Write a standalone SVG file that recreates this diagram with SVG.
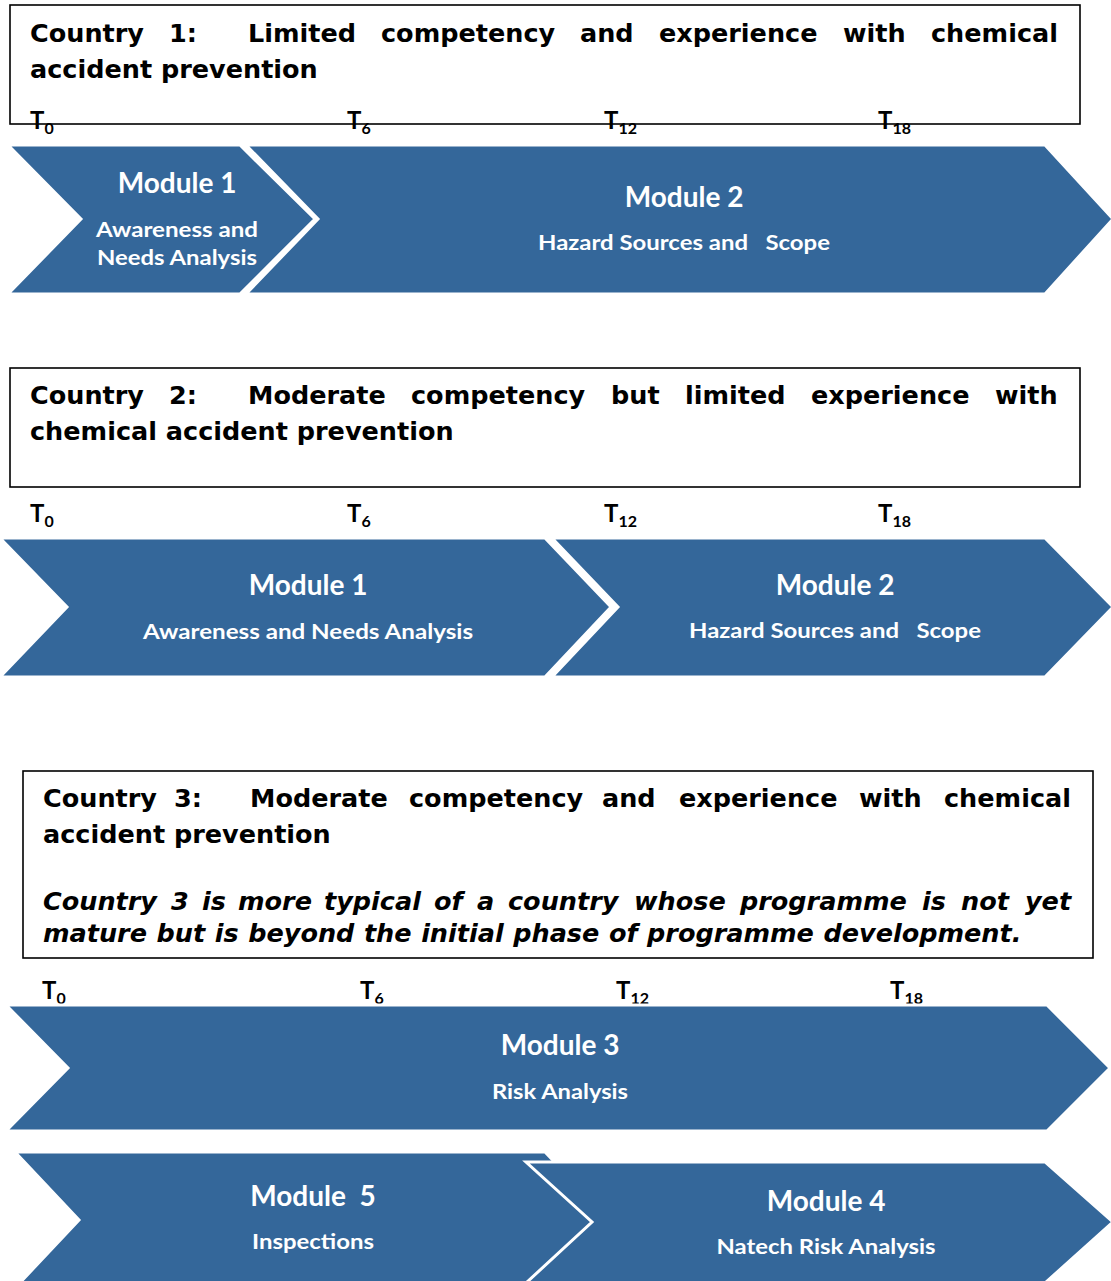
<svg xmlns="http://www.w3.org/2000/svg" width="1111" height="1281" viewBox="0 0 1111 1281">
<style>
.box{fill:#ffffff;stroke:#000000;stroke-width:1.6}
.hd{font-family:"DejaVu Sans","Verdana",sans-serif;font-weight:bold;font-size:25.5px;fill:#000000}
.it{font-style:italic}
.chev{fill:#34679A;stroke:#ffffff;stroke-width:3;stroke-linejoin:miter}
.mt{font-family:Lato,"Open Sans",sans-serif;font-weight:bold;font-size:28px;fill:#ffffff;text-anchor:middle}
.ms{font-family:Lato,"Open Sans",sans-serif;font-weight:bold;font-size:21px;fill:#ffffff;text-anchor:middle}
.tl{font-family:Lato,"Open Sans",sans-serif;font-weight:bold;font-size:24px;fill:#000000}
.sub{font-size:16px}
</style>
<rect width="1111" height="1281" fill="#ffffff"/>

<!-- Country 1 -->
<g id="country1-header">
<rect class="box" x="10" y="5" width="1070" height="119"/>
<text class="hd" y="42"><tspan x="30">Country</tspan><tspan x="169">1:</tspan><tspan x="248">Limited</tspan><tspan x="381">competency</tspan><tspan x="580">and</tspan><tspan x="659">experience</tspan><tspan x="843">with</tspan><tspan x="931">chemical</tspan></text>
<text class="hd" x="30" y="78">accident prevention</text>
</g>
<g id="country1-timeline">
<text class="tl" x="30" y="129">T<tspan class="sub" dy="5">0</tspan></text>
<text class="tl" x="347" y="129">T<tspan class="sub" dy="5">6</tspan></text>
<text class="tl" x="604" y="129">T<tspan class="sub" dy="5">12</tspan></text>
<text class="tl" x="878" y="129">T<tspan class="sub" dy="5">18</tspan></text>
</g>
<g id="c1-module2">
<polygon class="chev" points="246,145 1045,145 1113,219 1045,294 246,294 318,219"/>
<text class="mt" x="684" y="207">Module 2</text>
<text class="ms" x="684" y="250" textLength="292" lengthAdjust="spacingAndGlyphs" xml:space="preserve">Hazard Sources and   Scope</text>
</g>
<g id="c1-module1">
<polygon class="chev" points="8,145 240,145 315,219 240,294 8,294 81,219"/>
<text class="mt" x="177" y="193">Module 1</text>
<text class="ms" x="177" y="237" textLength="162" lengthAdjust="spacingAndGlyphs">Awareness and</text>
<text class="ms" x="177" y="265" textLength="160" lengthAdjust="spacingAndGlyphs">Needs Analysis</text>
</g>

<!-- Country 2 -->
<g id="country2-header">
<rect class="box" x="10" y="368" width="1070" height="119"/>
<text class="hd" y="404"><tspan x="30">Country</tspan><tspan x="169">2:</tspan><tspan x="248">Moderate</tspan><tspan x="411">competency</tspan><tspan x="611">but</tspan><tspan x="685">limited</tspan><tspan x="811">experience</tspan><tspan x="995">with</tspan></text>
<text class="hd" x="30" y="440">chemical accident prevention</text>
</g>
<g id="country2-timeline">
<text class="tl" x="30" y="522">T<tspan class="sub" dy="5">0</tspan></text>
<text class="tl" x="347" y="522">T<tspan class="sub" dy="5">6</tspan></text>
<text class="tl" x="604" y="522">T<tspan class="sub" dy="5">12</tspan></text>
<text class="tl" x="878" y="522">T<tspan class="sub" dy="5">18</tspan></text>
</g>
<g id="c2-module2">
<polygon class="chev" points="552,538 1045,538 1113,607 1045,677 552,677 618,607"/>
<text class="mt" x="835" y="595">Module 2</text>
<text class="ms" x="835" y="638" textLength="292" lengthAdjust="spacingAndGlyphs" xml:space="preserve">Hazard Sources and   Scope</text>
</g>
<g id="c2-module1">
<polygon class="chev" points="0,538 545,538 611,607 545,677 0,677 67,607"/>
<text class="mt" x="308" y="595">Module 1</text>
<text class="ms" x="308" y="639" textLength="330" lengthAdjust="spacingAndGlyphs">Awareness and Needs Analysis</text>
</g>

<!-- Country 3 -->
<g id="country3-header">
<rect class="box" x="23" y="771" width="1070" height="187"/>
<text class="hd" y="807"><tspan x="43">Country</tspan><tspan x="174">3:</tspan><tspan x="250">Moderate</tspan><tspan x="409">competency</tspan><tspan x="602">and</tspan><tspan x="679">experience</tspan><tspan x="859">with</tspan><tspan x="944">chemical</tspan></text>
<text class="hd" x="43" y="843">accident prevention</text>
<text class="hd it" y="910"><tspan x="43">Country</tspan><tspan x="171">3</tspan><tspan x="202">is</tspan><tspan x="238">more</tspan><tspan x="324">typical</tspan><tspan x="434">of</tspan><tspan x="477">a</tspan><tspan x="508">country</tspan><tspan x="634">whose</tspan><tspan x="740">programme</tspan><tspan x="922">is</tspan><tspan x="961">not</tspan><tspan x="1025">yet</tspan></text>
<text class="hd it" x="43" y="942" word-spacing="0.7">mature but is beyond the initial phase of programme development.</text>
</g>
<g id="country3-timeline">
<text class="tl" x="42" y="999">T<tspan class="sub" dy="5">0</tspan></text>
<text class="tl" x="360" y="999">T<tspan class="sub" dy="5">6</tspan></text>
<text class="tl" x="616" y="999">T<tspan class="sub" dy="5">12</tspan></text>
<text class="tl" x="890" y="999">T<tspan class="sub" dy="5">18</tspan></text>
</g>
<g id="c3-module3">
<polygon class="chev" points="6,1005 1047,1005 1110,1068 1047,1131 6,1131 68,1068"/>
<text class="mt" x="560" y="1055">Module 3</text>
<text class="ms" x="560" y="1099" textLength="136" lengthAdjust="spacingAndGlyphs">Risk Analysis</text>
</g>
<g id="c3-module5">
<polygon class="chev" points="15,1152 545,1152 610,1220 545,1288 15,1288 79,1220"/>
<text class="mt" x="313" y="1206" xml:space="preserve">Module  5</text>
<text class="ms" x="313" y="1249" textLength="122" lengthAdjust="spacingAndGlyphs">Inspections</text>
</g>
<g id="c3-module4">
<polygon class="chev" points="526,1162 1045,1162 1113,1222 1045,1283 526,1283 592,1222"/>
<text class="mt" x="826" y="1211">Module 4</text>
<text class="ms" x="826" y="1254" textLength="219" lengthAdjust="spacingAndGlyphs">Natech Risk Analysis</text>
</g>
<g id="connectors"></g>
</svg>
